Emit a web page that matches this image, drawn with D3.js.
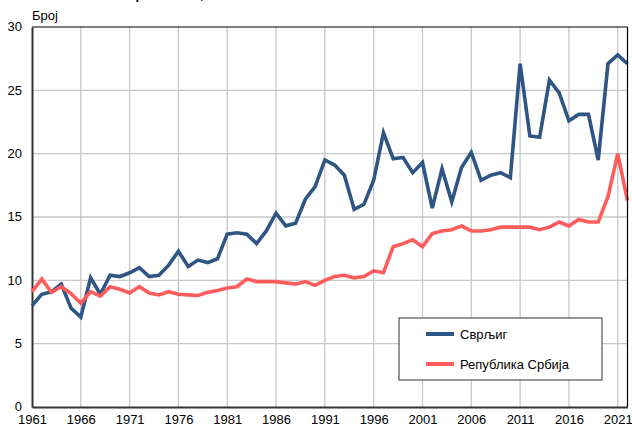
<!DOCTYPE html>
<html>
<head>
<meta charset="utf-8">
<script src="https://cdn.jsdelivr.net/npm/d3@7"></script>
<style>
  html, body { margin: 0; padding: 0; background: #fff; }
  svg { display: block; font-family: "Liberation Sans", Arial, sans-serif; }
</style>
</head>
<body>
<svg id="chart" width="632" height="430"></svg>
<script>
// Years and yearly values per 1000 inhabitants
const years = d3.range(1961, 2023);
const svrljig = [
  8.0, 8.9, 9.1, 9.7, 7.8, 7.1, 10.2, 8.9, 10.4, 10.3,
  10.6, 11.0, 10.3, 10.4, 11.2, 12.3, 11.1, 11.6, 11.4, 11.7,
  13.65, 13.75, 13.65, 12.9, 13.9, 15.3, 14.3, 14.5, 16.4, 17.4,
  19.5, 19.1, 18.3, 15.6, 16.0, 17.9, 21.65, 19.6, 19.7, 18.5,
  19.3, 15.7, 18.8, 16.2, 18.9, 20.1, 17.9, 18.3, 18.5, 18.1,
  27.1, 21.4, 21.3, 25.8, 24.8, 22.6, 23.1, 23.1, 19.5, 27.1,
  27.8, 27.1
];
const serbia = [
  9.1, 10.1, 9.05, 9.5, 8.95, 8.2, 9.1, 8.75, 9.5, 9.3,
  9.0, 9.5, 9.0, 8.85, 9.1, 8.9, 8.85, 8.8, 9.05, 9.2,
  9.4, 9.5, 10.1, 9.9, 9.9, 9.9, 9.8, 9.7, 9.9, 9.6,
  10.0, 10.3, 10.4, 10.2, 10.3, 10.75, 10.6, 12.65, 12.9, 13.2,
  12.65, 13.7, 13.9, 14.0, 14.3, 13.9, 13.9, 14.0, 14.2, 14.2,
  14.2, 14.2, 14.0, 14.2, 14.6, 14.3, 14.8, 14.6, 14.6, 16.6,
  20.0, 16.3
];
const xTickYears = d3.range(1961, 2022, 5);
const yTicks = [0, 5, 10, 15, 20, 25, 30];
const seriesNames = ["Сврљиг", "Република Србија"];
const seriesColors = ["#2f5584", "#ff5c5c"];
const titleText = "Општа стопа морталитета, 1961–2022";
const yAxisTitle = "Број";

const svg = d3.select("#chart");
const margin = { left: 32, right: 4, top: 27, bottom: 23 };
const W = 632, H = 430;
const x = d3.scaleLinear().domain([1961, 2022]).range([margin.left, W - margin.right - 0.5]);
const y = d3.scaleLinear().domain([0, 30]).range([H - margin.bottom, margin.top]);

// Title, sitting above the top edge of the page
svg.append("text")
  .attr("x", 32).attr("y", -1)
  .attr("font-size", 13).attr("font-weight", "bold").attr("fill", "#000")
  .text(titleText);

// Gridlines
const grid = svg.append("g").attr("stroke", "#c8c8c8").attr("stroke-width", 1.3);
grid.selectAll("line.h").data(yTicks.filter(d => d > 0 && d < 30)).join("line")
  .attr("x1", x(1961)).attr("x2", x(2022))
  .attr("y1", d => y(d)).attr("y2", d => y(d));
grid.selectAll("line.v").data(xTickYears.filter(d => d > 1961)).join("line")
  .attr("y1", y(0)).attr("y2", y(30))
  .attr("x1", d => x(d)).attr("x2", d => x(d));

// Frame: top and right thin, left and bottom as axes
svg.append("line").attr("x1", x(1961)).attr("x2", x(2022)).attr("y1", y(30)).attr("y2", y(30))
  .attr("stroke", "#000").attr("stroke-width", 1.2);

// Axes
const xAxis = d3.axisBottom(x).tickValues(xTickYears).tickFormat(d3.format("d")).tickSize(0).tickPadding(8);
const yAxis = d3.axisLeft(y).tickValues(yTicks).tickSize(0).tickPadding(10);
const gx = svg.append("g").attr("transform", `translate(0,${y(0)})`).call(xAxis);
const gy = svg.append("g").attr("transform", `translate(${x(1961)},0)`).call(yAxis);
[gx, gy].forEach(g => {
  g.select(".domain").attr("stroke", "#333").attr("stroke-width", 2);
  g.selectAll("text").attr("font-size", 13).attr("fill", "#000")
    .attr("font-family", "Liberation Sans, Arial, sans-serif");
});
gy.selectAll("text").attr("dy", "0.3em");

// Y axis title
svg.append("text").attr("x", 32).attr("y", 20)
  .attr("font-size", 13).attr("fill", "#000").text(yAxisTitle);

// Lines
const line = d3.line().x((d, i) => x(years[i])).y(d => y(d));
const plot = svg.append("g");
[svrljig, serbia].forEach((vals, k) => {
  plot.append("path").datum(vals)
    .attr("fill", "none").attr("stroke", seriesColors[k])
    .attr("stroke-width", 3.6).attr("stroke-linejoin", "miter")
    .attr("d", line);
});

// Right border drawn over the line ends
svg.append("line").attr("x1", x(2022)).attr("x2", x(2022)).attr("y1", y(30)).attr("y2", y(0))
  .attr("stroke", "#000").attr("stroke-width", 1.2);

// Legend
const lg = svg.append("g").attr("transform", "translate(399,318)");
lg.append("rect").attr("width", 203).attr("height", 62)
  .attr("fill", "#fff").attr("stroke", "#333").attr("stroke-width", 1);
seriesNames.forEach((name, k) => {
  const cy = 16 + k * 30;
  lg.append("line").attr("x1", 27).attr("x2", 55).attr("y1", cy).attr("y2", cy)
    .attr("stroke", seriesColors[k]).attr("stroke-width", 4);
  lg.append("text").attr("x", 61).attr("y", cy).attr("dy", "0.35em")
    .attr("font-size", 13).attr("fill", "#000").text(name);
});
</script>
</body>
</html>
